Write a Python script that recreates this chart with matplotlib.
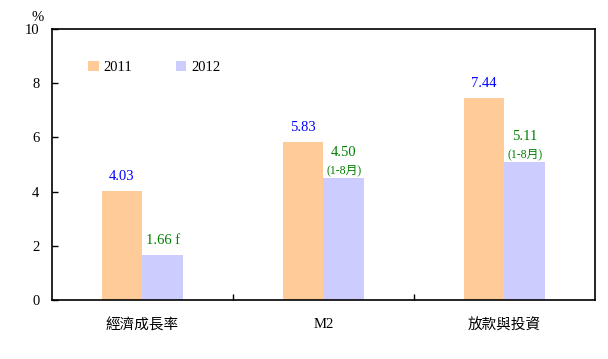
import matplotlib
matplotlib.use("Agg")
import matplotlib.pyplot as plt
import numpy as np

categories = ["經濟成長率", "M2", "放款與投資"]
series_names = ["2011", "2012"]
values_2011 = [4.03, 5.83, 7.44]
values_2012 = [1.66, 4.50, 5.11]
labels_2012 = ["1.66 f", "4.50", "5.11"]
notes_2012 = ["", "(1-8月)", "(1-8月)"]

plt.rcParams['font.family'] = ['Liberation Serif', 'Noto Sans CJK TC', 'DejaVu Sans']

fig = plt.figure(figsize=(6.08, 3.59), dpi=100)
ax = fig.add_axes([0.0855, 0.1643, 0.8931, 0.7549])

x = np.arange(len(categories))
w = 0.226
ax.bar(x - w / 2, values_2011, w, color="#FFCC99", label=series_names[0])
ax.bar(x + w / 2, values_2012, w, color="#CCCCFF", label=series_names[1])

for xi, v in zip(x, values_2011):
    ax.text(xi - w / 2, v + 0.3, f"{v:.2f}", color="#0000FF", ha="center",
            va="bottom", fontsize=10.5)
for xi, v, lab, note in zip(x, values_2012, labels_2012, notes_2012):
    if note:
        ax.text(xi + w / 2, v + 0.05, note, color="#008000", ha="center",
                va="bottom", fontsize=8.5)
        ax.text(xi + w / 2, v + 0.7, lab, color="#008000", ha="center",
                va="bottom", fontsize=10.5)
    else:
        ax.text(xi + w / 2, v + 0.3, lab, color="#008000", ha="center",
                va="bottom", fontsize=10.5)

ax.set_xlim(-0.5, len(categories) - 0.5)
ax.set_ylim(0, 10)
ax.set_yticks(np.arange(0, 11, 2))
ax.set_xticks(x)
ax.set_xticklabels(categories, fontsize=10.5)
ax.tick_params(axis="x", length=0, pad=13)
ax.set_xticks(np.arange(0.5, len(categories) - 0.5, 1), minor=True)
ax.tick_params(axis="x", which="minor", direction="in", length=4, width=1)
ax.tick_params(axis="y", direction="in", length=4, width=1, labelsize=10.5, pad=9)
for s in ax.spines.values():
    s.set_linewidth(1.2)

ax.text(-0.015, 1.02, "%", transform=ax.transAxes, fontsize=10.5, ha="right", va="bottom")

ax.legend(loc="upper left", bbox_to_anchor=(0.043, 0.93), ncol=2, frameon=False,
          fontsize=10.5, handlelength=0.7, handleheight=0.7, columnspacing=3.0,
          handletextpad=0.35)

fig.savefig("out.png", dpi=100)
